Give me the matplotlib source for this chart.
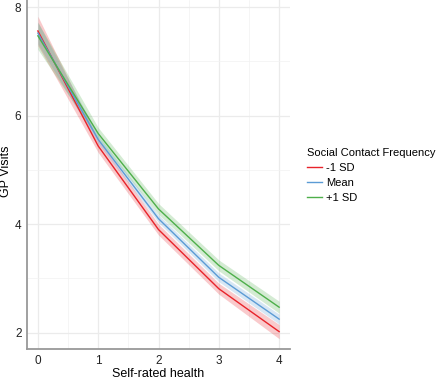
import matplotlib
matplotlib.use("Agg")
import matplotlib.pyplot as plt
import numpy as np

plt.rcParams['font.family'] = ['Liberation Sans', 'DejaVu Sans']

# Self-rated health levels
health = [0, 1, 2, 3, 4]

# predicted GP visits per social contact level
low_sd = [7.56, 5.44, 3.90, 2.81, 2.02]
mean_sd = [7.52, 5.56, 4.10, 3.02, 2.25]
high_sd = [7.47, 5.67, 4.28, 3.24, 2.47]

# half width of the confidence bands
low_ci = [0.27, 0.12, 0.10, 0.10, 0.13]
mean_ci = [0.20, 0.08, 0.07, 0.08, 0.09]
high_ci = [0.25, 0.11, 0.10, 0.10, 0.11]

labels = ["-1 SD", "Mean", "+1 SD"]
colors = ["#e8232a", "#5b9bd5", "#4daf4a"]

fig = plt.figure(figsize=(4.4, 3.8), dpi=100)
ax = fig.add_axes([0.0614, 0.0816, 0.5977, 0.9184])

for y, ci, lab, c in zip([low_sd, mean_sd, high_sd], [low_ci, mean_ci, high_ci], labels, colors):
    y = np.array(y)
    ci = np.array(ci)
    ax.fill_between(health, y - ci, y + ci, color=c, alpha=0.24, lw=0)
    ax.plot(health, y, color=c, lw=1.0, label=lab)

ax.set_xlim(-0.18, 4.18)
ax.set_ylim(1.70, 8.13)
ax.set_xticks([0, 1, 2, 3, 4])
ax.set_yticks([2, 4, 6, 8])
ax.set_xticks([0.5, 1.5, 2.5, 3.5], minor=True)
ax.set_yticks([3, 5, 7], minor=True)
ax.grid(which='major', color='#ebebeb', lw=0.9)
ax.grid(which='minor', color='#f2f2f2', lw=0.5)
ax.set_axisbelow(True)
ax.tick_params(which='both', length=0, labelsize=8.5, colors='#222222', pad=4)

for s in ['top', 'right']:
    ax.spines[s].set_visible(False)
for s in ['left', 'bottom']:
    ax.spines[s].set_color('#999999')
    ax.spines[s].set_linewidth(1.3)

ax.set_xlabel("Self-rated health", fontsize=9)
ax.set_ylabel("GP Visits", fontsize=9)
ax.yaxis.set_label_coords(-0.058, 0.509)
ax.xaxis.set_label_coords(0.5, -0.054)

leg = ax.legend(title="Social Contact Frequency", loc='upper left',
                bbox_to_anchor=(1.045, 0.593), frameon=False, fontsize=8,
                title_fontsize=8, handlelength=1.3, handletextpad=0.4,
                labelspacing=0.45, borderpad=0)
leg._legend_box.align = "left"

fig.savefig("out.png", dpi=100)
